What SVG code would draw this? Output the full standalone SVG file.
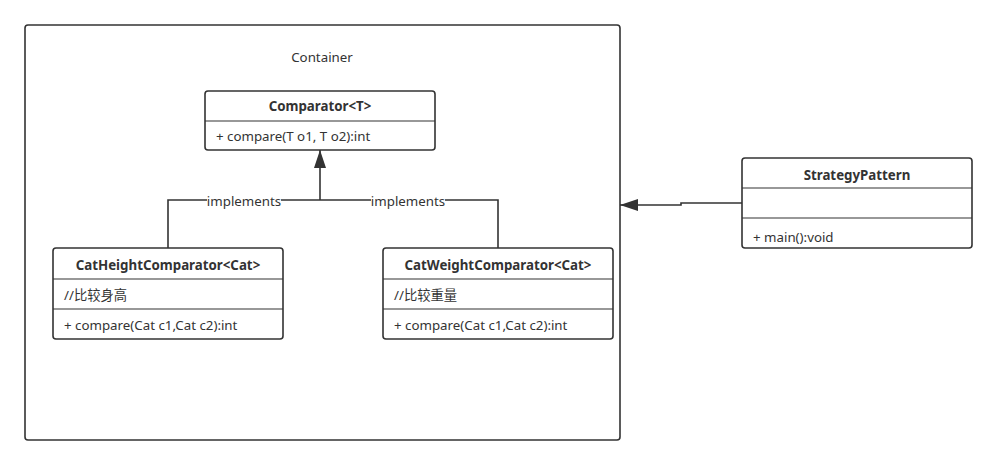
<svg xmlns="http://www.w3.org/2000/svg" width="997" height="464" viewBox="0 0 997 464">
<style>
.box{fill:#fff;stroke:#333;stroke-width:1.6}
.div{stroke:#333;stroke-width:1.2;fill:none}
.t{font-family:"Noto Sans","Noto Sans CJK SC",sans-serif;font-size:13.3px;fill:#333}
.b{font-weight:bold;text-anchor:middle}
.ln{fill:none;stroke:#333;stroke-width:1.6}
.lbl{font-family:"Noto Sans",sans-serif;font-size:13.3px;fill:#333;text-anchor:middle}
</style>
<defs>
<marker id="tri2" markerWidth="18" markerHeight="12" viewBox="0 0 18 12" refX="18" refY="6" orient="auto" markerUnits="userSpaceOnUse">
<path d="M0,0 L18,6 L0,12 Z" fill="#333"/>
</marker>
</defs>
<rect width="997" height="464" fill="#fff"/>
<g id="container">
<rect class="box" x="25" y="25" width="595" height="415" rx="3"/>
<text class="t" x="322" y="62" text-anchor="middle">Container</text>
</g>
<g id="comparator">
<rect class="box" x="205" y="91" width="230" height="59" rx="3"/>
<line class="div" x1="205" y1="121" x2="435" y2="121"/>
<text class="t b" x="320" y="111">Comparator&lt;T&gt;</text>
<text class="t" x="216" y="141">+ compare(T o1, T o2):int</text>
</g>
<g id="catHeight">
<rect class="box" x="53" y="248" width="230" height="91" rx="3"/>
<line class="div" x1="53" y1="279" x2="283" y2="279"/>
<line class="div" x1="53" y1="309" x2="283" y2="309"/>
<text class="t b" x="168" y="270">CatHeightComparator&lt;Cat&gt;</text>
<text class="t" x="64" y="300">//比较身高</text>
<text class="t" x="64" y="330">+ compare(Cat c1,Cat c2):int</text>
</g>
<g id="catWeight">
<rect class="box" x="383" y="248" width="230" height="91" rx="3"/>
<line class="div" x1="383" y1="279" x2="613" y2="279"/>
<line class="div" x1="383" y1="309" x2="613" y2="309"/>
<text class="t b" x="498" y="270">CatWeightComparator&lt;Cat&gt;</text>
<text class="t" x="394" y="300">//比较重量</text>
<text class="t" x="394" y="330">+ compare(Cat c1,Cat c2):int</text>
</g>
<g id="strategy">
<rect class="box" x="742" y="158" width="230" height="90" rx="3"/>
<line class="div" x1="742" y1="188" x2="972" y2="188"/>
<line class="div" x1="742" y1="218" x2="972" y2="218"/>
<text class="t b" x="857" y="180">StrategyPattern</text>
<text class="t" x="753" y="242">+ main():void</text>
</g>
<g id="connectors">
<polyline class="ln" points="168,248 168,200 320,200"/>
<polyline class="ln" points="498,248 498,200 320,200"/>
<line class="ln" x1="320" y1="200" x2="320" y2="150" marker-end="url(#tri2)"/>
<rect x="207" y="193" width="74" height="15" fill="#fff"/>
<text class="lbl" x="244" y="206">implements</text>
<rect x="371" y="193" width="74" height="15" fill="#fff"/>
<text class="lbl" x="408" y="206">implements</text>
<polyline class="ln" points="742,203 681,203 681,205 620,205" marker-end="url(#tri2)"/>
</g>
</svg>
